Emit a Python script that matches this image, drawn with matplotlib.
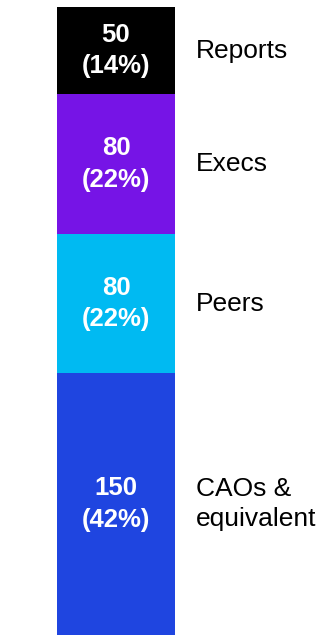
import matplotlib.pyplot as plt

plt.rcParams['font.family'] = ['Liberation Sans', 'DejaVu Sans']

# datos (de abajo hacia arriba)
categories = ['CAOs &\nequivalent', 'Peers', 'Execs', 'Reports']
values = [150, 80, 80, 50]
percents = [42, 22, 22, 14]
colors = ['#1f45e0', '#00baf2', '#7614e6', '#000000']

fig = plt.figure(figsize=(3.23, 6.35), dpi=100)
ax = fig.add_axes([57 / 323, 0, 118 / 323, 628 / 635])

bottom = 0
for cat, val, pct, col in zip(categories, values, percents, colors):
    ax.bar(0, val, width=1, bottom=bottom, color=col)
    mid = bottom + val / 2
    ax.text(0, mid, f'{val}\n({pct}%)', ha='center', va='center', color='white',
            fontsize=18.5, fontweight='bold', linespacing=1.4)
    ax.text(0.68, mid, cat, ha='left', va='center', color='black',
            fontsize=19, linespacing=1.32, clip_on=False)
    bottom += val

ax.set_xlim(-0.5, 0.5)
ax.set_ylim(0, bottom)
ax.axis('off')

fig.savefig('out.png', dpi=100)
